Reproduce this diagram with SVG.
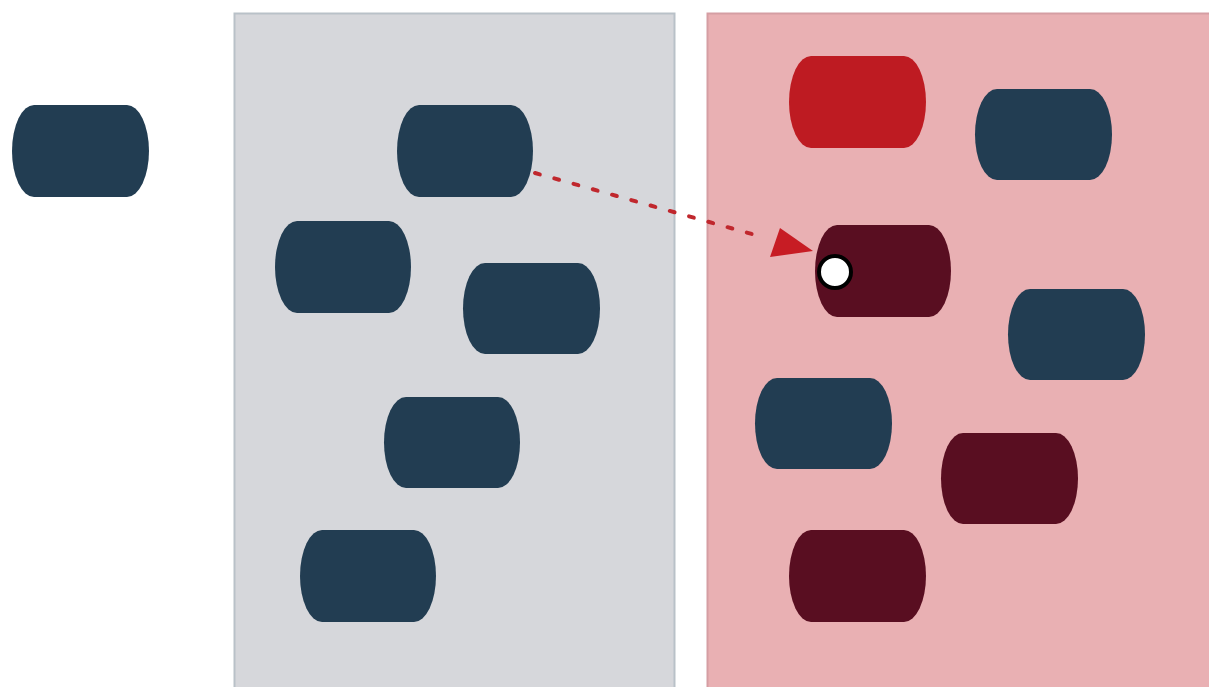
<svg xmlns="http://www.w3.org/2000/svg" width="1209" height="687" viewBox="0 0 1209 687">
  <style>
    .pill { stroke: none; }
    .blue { fill: #223d52; }
    .red { fill: #be1b22; }
    .maroon { fill: #590e21; }
    .link { fill: none; stroke: #c0272d; stroke-width: 4; stroke-dasharray: 5 15; stroke-linecap: round; }
    .head { fill: #c71c24; }
  </style>
  <rect width="1209" height="687" fill="#ffffff"/>

  <!-- containers -->
  <g id="panel-left">
    <rect x="234.5" y="13.5" width="440" height="680" fill="#d6d7db" stroke="#b9c1c8" stroke-width="2"/>
  </g>
  <g id="panel-right">
    <rect x="707.5" y="13.5" width="510" height="680" fill="#e9b0b3" stroke="#d59ea3" stroke-width="2"/>
  </g>

  <!-- free node -->
  <g id="n0"><rect class="pill blue" x="12" y="105" width="137" height="92" rx="22" ry="46"/></g>

  <!-- nodes in the grey panel -->
  <g id="n1"><rect class="pill blue" x="397" y="105" width="136" height="92" rx="22" ry="46"/></g>
  <g id="n2"><rect class="pill blue" x="275" y="221" width="136" height="92" rx="22" ry="46"/></g>
  <g id="n3"><rect class="pill blue" x="463" y="263" width="137" height="91" rx="22" ry="46"/></g>
  <g id="n4"><rect class="pill blue" x="384" y="397" width="136" height="91" rx="22" ry="46"/></g>
  <g id="n5"><rect class="pill blue" x="300" y="530" width="136" height="92" rx="22" ry="46"/></g>

  <!-- nodes in the pink panel -->
  <g id="n6"><rect class="pill red" x="789" y="56" width="137" height="92" rx="22" ry="46"/></g>
  <g id="n7"><rect class="pill blue" x="975" y="89" width="137" height="91" rx="22" ry="46"/></g>
  <g id="n8"><rect class="pill maroon" x="815" y="225" width="136" height="92" rx="22" ry="46"/></g>
  <g id="n9"><rect class="pill blue" x="1008" y="289" width="137" height="91" rx="22" ry="46"/></g>
  <g id="n10"><rect class="pill blue" x="755" y="378" width="137" height="91" rx="22" ry="46"/></g>
  <g id="n11"><rect class="pill maroon" x="941" y="433" width="137" height="91" rx="22" ry="46"/></g>
  <g id="n12"><rect class="pill maroon" x="789" y="530" width="137" height="92" rx="22" ry="46"/></g>

  <!-- connectors -->
  <g id="connectors">
    <path class="link" d="M535,173 L766,238"/>
    <path class="head" d="M813,251 L780,228 L770,257 Z"/>
  </g>

  <!-- port marker -->
  <g id="port">
    <circle cx="835" cy="272" r="16" fill="#ffffff" stroke="#000000" stroke-width="4"/>
  </g>
</svg>
